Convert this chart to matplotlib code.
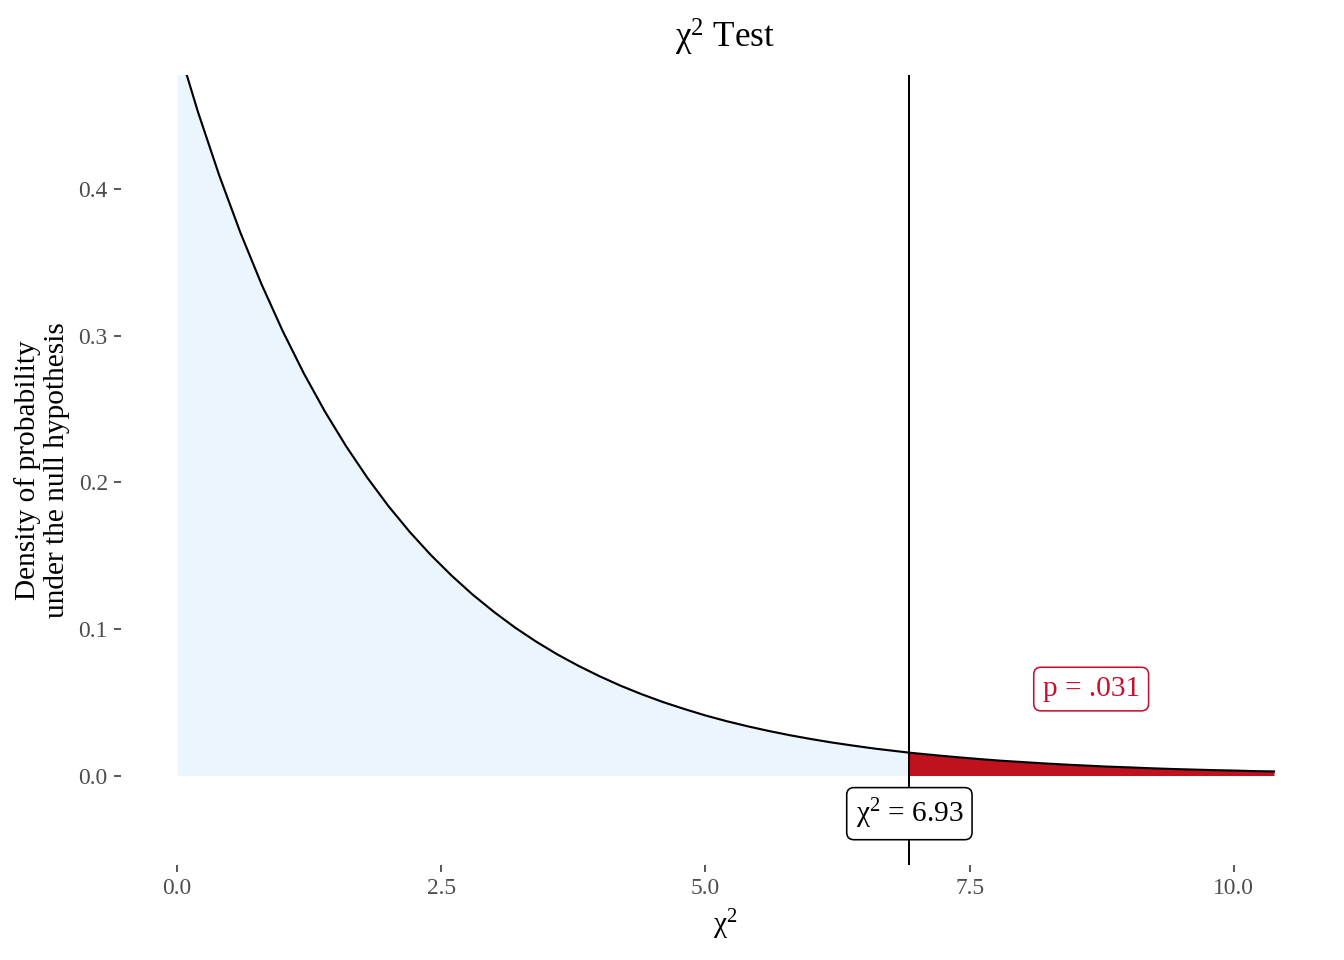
import matplotlib
matplotlib.use("Agg")
import matplotlib.pyplot as plt
import numpy as np

# chi-square density under H0
chi_x = [0.0, 0.2, 0.4, 0.6, 0.8, 1.0, 1.2, 1.4, 1.6, 1.8, 2.0, 2.2, 2.4, 2.6,
         2.8, 3.0, 3.2, 3.4, 3.6, 3.8, 4.0, 4.2, 4.4, 4.6, 4.8, 5.0, 5.2, 5.4,
         5.6, 5.8, 6.0, 6.2, 6.4, 6.6, 6.8, 6.93, 7.0, 7.2, 7.4, 7.6, 7.8, 8.0,
         8.2, 8.4, 8.6, 8.8, 9.0, 9.2, 9.4, 9.6, 9.8, 10.0, 10.2, 10.38]
density = [0.5000, 0.4524, 0.4094, 0.3704, 0.3352, 0.3033, 0.2744, 0.2483,
           0.2247, 0.2033, 0.1839, 0.1664, 0.1506, 0.1363, 0.1233, 0.1116,
           0.1009, 0.0913, 0.0826, 0.0748, 0.0677, 0.0612, 0.0554, 0.0501,
           0.0454, 0.0410, 0.0371, 0.0336, 0.0304, 0.0275, 0.0249, 0.0225,
           0.0204, 0.0184, 0.0167, 0.0156, 0.0151, 0.0137, 0.0124, 0.0112,
           0.0101, 0.0092, 0.0083, 0.0075, 0.0068, 0.0061, 0.0056, 0.0050,
           0.0045, 0.0041, 0.0037, 0.0034, 0.0030, 0.0028]

chi_stat = 6.93
p_label = "p = .031"
stat_label = "χ$^{2}$ = 6.93"

x_ticks = [0.0, 2.5, 5.0, 7.5, 10.0]
y_ticks = [0.0, 0.1, 0.2, 0.3, 0.4]

plt.rcParams['font.family'] = ['Liberation Serif', 'DejaVu Serif']
plt.rcParams['mathtext.fontset'] = 'custom'
plt.rcParams['mathtext.rm'] = 'Liberation Serif'
plt.rcParams['mathtext.it'] = 'Liberation Serif'
plt.rcParams['mathtext.default'] = 'regular'

x = np.array(chi_x)
y = np.array(density)

fig = plt.figure(figsize=(7, 5), dpi=192)
ax = fig.add_axes([0.090, 0.099, 0.8996, 0.823])

left = x <= chi_stat
right = x >= chi_stat
ax.fill_between(x[left], 0, y[left], color='#EAF5FE', linewidth=0)
ax.fill_between(x[right], 0, y[right], color='#C0111F', linewidth=0)
ax.plot(x, y, color='black', linewidth=0.8)
ax.axvline(chi_stat, color='black', linewidth=0.75)

ax.text(chi_stat, -0.026, stat_label, ha='center', va='center', fontsize=11,
        color='black',
        bbox=dict(boxstyle='round,pad=0.3,rounding_size=0.25', fc='white',
                  ec='black', lw=0.6))
ax.text(8.65, 0.059, p_label, ha='center', va='center', fontsize=11,
        color='#C8102E',
        bbox=dict(boxstyle='round,pad=0.3,rounding_size=0.25', fc='white',
                  ec='#C8102E', lw=0.6))

ax.set_xlim(-0.53, 10.91)
ax.set_ylim(-0.061, 0.478)
ax.set_xticks(x_ticks)
ax.set_xticklabels([f"{v:.1f}" for v in x_ticks])
ax.set_yticks(y_ticks)
ax.set_yticklabels([f"{v:.1f}" for v in y_ticks])
ax.tick_params(axis='both', colors='#333333', labelcolor='#4D4D4D',
               labelsize=8.8, length=2.75, width=0.6, pad=2.2)
for s in ax.spines.values():
    s.set_visible(False)

ax.set_xlabel("χ$^{2}$", fontsize=11)
ax.xaxis.set_label_coords(0.5, -0.076)
ax.xaxis.label.set_va('center')
ax.set_ylabel("Density of probability\nunder the null hypothesis", fontsize=11,
              linespacing=1.15)
ax.yaxis.set_label_coords(-0.065, 0.5)
ax.yaxis.label.set_va('center')

fig.text(725 / 1344, 1 - 37 / 960, "χ$^{2}$ Test", ha='center', va='center',
         fontsize=13.2)

fig.savefig("out.png", dpi=192)
